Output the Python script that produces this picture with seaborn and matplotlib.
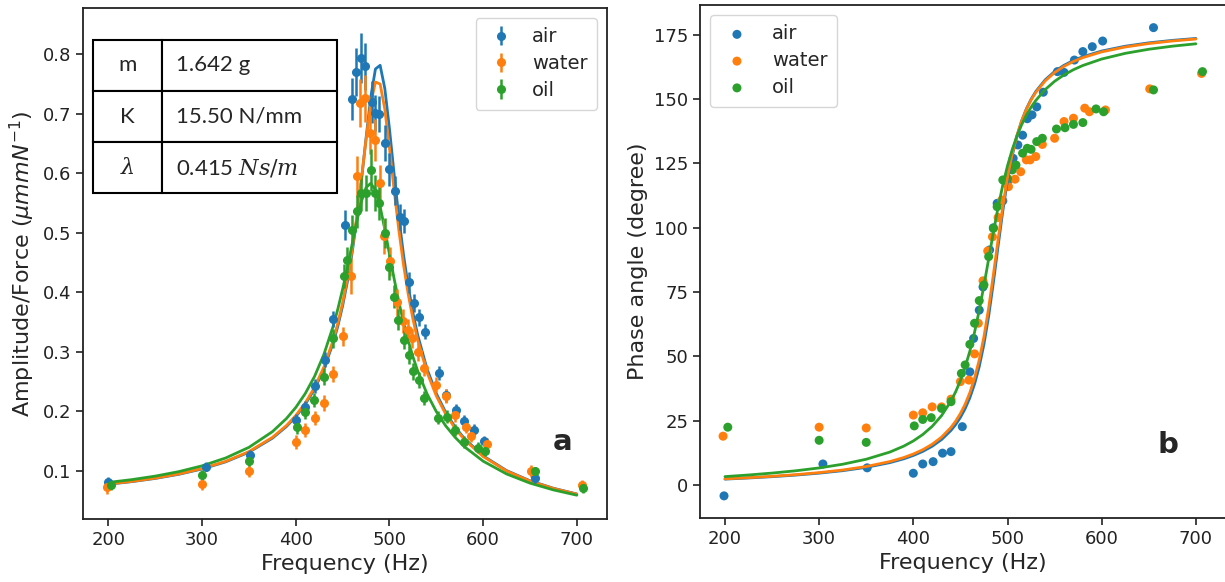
import matplotlib
matplotlib.use("Agg")
import matplotlib.pyplot as plt
import seaborn as sns

# ---------------- data ----------------
media = ["air", "water", "oil"]

freq_air = [199, 304, 351, 400, 410, 421, 431, 440, 452, 460, 464, 470, 474, 481, 485, 489,
            495, 500, 506, 511, 516, 521, 526, 531, 538, 553, 560, 571, 580, 590, 601, 655]
amp_air = [0.082, 0.107, 0.127, 0.185, 0.208, 0.243, 0.287, 0.355, 0.513, 0.725, 0.770, 0.794,
           0.780, 0.720, 0.702, 0.700, 0.651, 0.607, 0.571, 0.527, 0.520, 0.417, 0.382, 0.358,
           0.334, 0.264, 0.227, 0.203, 0.183, 0.169, 0.150, 0.088]
err_air = [0.008, 0.008, 0.008, 0.010, 0.010, 0.012, 0.012, 0.014, 0.025, 0.035, 0.040, 0.042,
           0.040, 0.035, 0.030, 0.030, 0.030, 0.028, 0.025, 0.022, 0.020, 0.018, 0.015, 0.014,
           0.013, 0.012, 0.011, 0.010, 0.010, 0.010, 0.009, 0.008]
phase_air = [-4.2, 8.2, 6.7, 4.6, 8.2, 9.1, 12.4, 13.0, 22.7, 44.0, 57.0, 68.0, 77.0, 91.4, 100.0,
             109.5, 110.5, 118.0, 127.0, 132.2, 136.0, 142.4, 143.9, 147.0, 152.7, 160.7, 160.4,
             165.2, 168.5, 170.4, 172.6, 177.8]

freq_water = [198, 300, 350, 400, 410, 420, 430, 440, 450, 459, 465, 469, 474, 479, 484, 490,
              494, 501, 508, 514, 520, 524, 530, 537, 550, 560, 570, 582, 587, 604, 651, 706]
amp_water = [0.073, 0.078, 0.100, 0.148, 0.169, 0.189, 0.214, 0.263, 0.326, 0.428, 0.595, 0.718,
             0.726, 0.668, 0.656, 0.584, 0.494, 0.452, 0.383, 0.352, 0.337, 0.323, 0.300, 0.273,
             0.245, 0.226, 0.194, 0.174, 0.159, 0.145, 0.100, 0.076]
err_water = [0.012, 0.010, 0.010, 0.012, 0.012, 0.012, 0.013, 0.014, 0.016, 0.030, 0.035, 0.040,
             0.040, 0.035, 0.035, 0.030, 0.030, 0.025, 0.022, 0.020, 0.018, 0.016, 0.015, 0.014,
             0.013, 0.012, 0.012, 0.011, 0.010, 0.010, 0.010, 0.008]
phase_water = [19.0, 22.5, 22.2, 27.2, 28.1, 30.4, 30.4, 33.4, 40.2, 40.8, 51.0, 62.9, 79.4, 91.0,
               96.5, 104.0, 110.8, 116.0, 118.9, 121.8, 126.4, 126.4, 127.7, 132.4, 134.8, 141.3,
               142.6, 146.5, 145.1, 145.8, 154.0, 160.0]

freq_oil = [203, 300, 350, 401, 410, 419, 430, 440, 451, 455, 460, 465, 470, 475, 480, 485, 489,
            495, 500, 505, 509, 516, 521, 525, 531, 537, 552, 561, 570, 580, 594, 602, 655, 707]
amp_oil = [0.076, 0.093, 0.117, 0.174, 0.199, 0.219, 0.258, 0.323, 0.427, 0.455, 0.505, 0.536,
           0.567, 0.567, 0.606, 0.567, 0.550, 0.500, 0.443, 0.393, 0.354, 0.320, 0.295, 0.267,
           0.253, 0.222, 0.189, 0.191, 0.169, 0.149, 0.139, 0.134, 0.099, 0.071]
err_oil = [0.008, 0.008, 0.009, 0.012, 0.012, 0.012, 0.014, 0.016, 0.020, 0.022, 0.025, 0.028,
           0.030, 0.030, 0.035, 0.030, 0.028, 0.025, 0.022, 0.020, 0.018, 0.016, 0.015, 0.014,
           0.013, 0.012, 0.011, 0.011, 0.010, 0.010, 0.009, 0.009, 0.008, 0.008]
phase_oil = [22.5, 17.4, 16.6, 23.0, 25.5, 26.2, 29.8, 32.4, 43.4, 46.7, 54.7, 62.9, 71.7, 77.8,
             88.8, 99.8, 108.2, 118.6, 119.2, 122.5, 124.4, 129.0, 130.9, 130.5, 133.5, 134.8,
             138.4, 138.9, 140.2, 140.9, 146.2, 145.1, 153.6, 160.7]

fit_freq = [200, 225, 250, 275, 300, 325, 350, 375, 390, 400, 410, 420, 430, 440, 445, 450, 455,
            460, 465, 470, 475, 480, 485, 490, 495, 500, 505, 510, 515, 520, 525, 530, 540, 550,
            560, 570, 580, 600, 625, 650, 675, 700]
fit_amp_air = [0.0774, 0.0818, 0.0872, 0.0941, 0.1031, 0.1150, 0.1313, 0.1548, 0.1745, 0.1911,
               0.2116, 0.2375, 0.2711, 0.3159, 0.3442, 0.3777, 0.4176, 0.4653, 0.5219, 0.5876,
               0.6596, 0.7283, 0.7755, 0.7817, 0.7427, 0.6745, 0.5978, 0.5257, 0.4628, 0.4099,
               0.3657, 0.3288, 0.2716, 0.2298, 0.1982, 0.1737, 0.1542, 0.1251, 0.1004, 0.0833,
               0.0707, 0.0611]
fit_amp_water = [0.0778, 0.0822, 0.0877, 0.0947, 0.1038, 0.1158, 0.1323, 0.1562, 0.1761, 0.1930,
                 0.2139, 0.2403, 0.2745, 0.3201, 0.3489, 0.3828, 0.4230, 0.4707, 0.5267, 0.5903,
                 0.6574, 0.7176, 0.7536, 0.7502, 0.7079, 0.6423, 0.5710, 0.5043, 0.4461, 0.3967,
                 0.3553, 0.3204, 0.2659, 0.2258, 0.1953, 0.1715, 0.1524, 0.1240, 0.0997, 0.0828,
                 0.0703, 0.0608]
fit_amp_oil = [0.0805, 0.0852, 0.0911, 0.0986, 0.1084, 0.1215, 0.1395, 0.1658, 0.1879, 0.2066,
               0.2297, 0.2587, 0.2958, 0.3438, 0.3729, 0.4056, 0.4417, 0.4802, 0.5187, 0.5527,
               0.5762, 0.5834, 0.5718, 0.5440, 0.5060, 0.4640, 0.4225, 0.3839, 0.3493, 0.3187,
               0.2918, 0.2683, 0.2296, 0.1995, 0.1756, 0.1564, 0.1405, 0.1162, 0.0947, 0.0793,
               0.0679, 0.0590]
fit_phase_air = [2.31, 2.75, 3.26, 3.87, 4.63, 5.59, 6.88, 8.71, 10.22, 11.50, 13.07, 15.08, 17.69,
                 21.25, 23.54, 26.31, 29.70, 33.92, 39.26, 46.07, 54.78, 65.71, 78.73, 92.87,
                 106.54, 118.43, 128.07, 135.65, 141.57, 146.23, 149.96, 152.97, 157.52, 160.76,
                 163.17, 165.04, 166.51, 168.71, 170.58, 171.89, 172.85, 173.60]
fit_phase_water = [2.41, 2.87, 3.40, 4.04, 4.84, 5.85, 7.21, 9.13, 10.72, 12.07, 13.74, 15.86,
                   18.64, 22.42, 24.86, 27.81, 31.41, 35.90, 41.54, 48.70, 57.74, 68.87, 81.79,
                   95.45, 108.39, 119.57, 128.66, 135.86, 141.53, 146.03, 149.66, 152.62, 157.12,
                   160.35, 162.77, 164.65, 166.15, 168.38, 170.28, 171.62, 172.61, 173.38]
fit_phase_oil = [3.29, 3.92, 4.66, 5.55, 6.66, 8.10, 10.04, 12.82, 15.16, 17.15, 19.64, 22.82,
                 27.00, 32.68, 36.31, 40.65, 45.83, 52.03, 59.41, 67.98, 77.63, 87.91, 98.23,
                 107.95, 116.63, 124.10, 130.40, 135.67, 140.06, 143.75, 146.86, 149.49, 153.73,
                 156.94, 159.45, 161.45, 163.09, 165.60, 167.81, 169.40, 170.59, 171.52]

table_rows = [["m", "1.642 g"], ["K", "15.50 N/mm"], [r"$\lambda$", r"0.415 $Ns/m$"]]

x_ticks = [200, 300, 400, 500, 600, 700]
amp_ticks = [0.1, 0.2, 0.3, 0.4, 0.5, 0.6, 0.7, 0.8]
phase_ticks = [0, 25, 50, 75, 100, 125, 150, 175]

# ---------------- style ----------------
sns.set_style("ticks")
plt.rcParams["font.family"] = ["DejaVu Sans"]
plt.rcParams["axes.edgecolor"] = "#222222"
plt.rcParams["axes.linewidth"] = 1.3
plt.rcParams["xtick.color"] = "#222222"
plt.rcParams["ytick.color"] = "#222222"

colors = {"air": "#1f77b4", "water": "#ff7f0e", "oil": "#2ca02c"}
series = {
    "air": (freq_air, amp_air, err_air, phase_air, fit_amp_air, fit_phase_air),
    "water": (freq_water, amp_water, err_water, phase_water, fit_amp_water, fit_phase_water),
    "oil": (freq_oil, amp_oil, err_oil, phase_oil, fit_amp_oil, fit_phase_oil),
}

fig = plt.figure(figsize=(12.25, 5.82), dpi=100)
ax1 = fig.add_axes([83 / 1225, 1 - 519 / 582, 524 / 1225, 511 / 582])
ax2 = fig.add_axes([700 / 1225, 1 - 518 / 582, 526.4 / 1225, 513 / 582])

# ---------------- left panel ----------------
for m in media:
    f, a, e, p, fa, fp = series[m]
    sns.lineplot(x=fit_freq, y=fa, ax=ax1, color=colors[m], linewidth=2.0, legend=False, sort=False)
for m in media:
    f, a, e, p, fa, fp = series[m]
    ax1.errorbar(f, a, yerr=e, fmt="o", color=colors[m], markersize=5.5, elinewidth=1.8,
                 capsize=0, label=m, zorder=3)

ax1.set_xlim(172.8, 732.2)
ax1.set_ylim(0.019, 0.878)
ax1.set_xticks(x_ticks)
ax1.set_yticks(amp_ticks)
ax1.tick_params(labelsize=13, length=5, width=1.2)
ax1.set_xlabel("Frequency (Hz)", fontsize=16)
ax1.set_ylabel(r"Amplitude/Force ($\mu m mN^{-1}$)", fontsize=16)
leg1 = ax1.legend(loc="upper right", fontsize=14, handletextpad=0.8, handlelength=1.6,
                  borderpad=0.5, labelspacing=0.4, frameon=True)
leg1.get_frame().set_edgecolor("#cccccc")
ax1.text(0.916, 0.151, "a", transform=ax1.transAxes, fontsize=21, fontweight="bold",
         ha="center", va="center")

tbl = ax1.table(cellText=table_rows, cellLoc="left", colWidths=[0.133, 0.333],
                bbox=[0.0185, 0.637, 0.466, 0.301], zorder=5)
tbl.auto_set_font_size(False)
tbl.set_fontsize(16)
for (r, c), cell in tbl.get_celld().items():
    cell.set_linewidth(1.5)
    cell.set_edgecolor("black")
    txt = cell.get_text()
    txt.set_fontfamily(["Lato", "DejaVu Sans"])
    txt.set_math_fontfamily("dejavuserif")
    if c == 0:
        cell._loc = "center"
        txt.set_horizontalalignment("center")
    else:
        cell.PAD = 0.08

# ---------------- right panel ----------------
for m in media:
    f, a, e, p, fa, fp = series[m]
    sns.scatterplot(x=f, y=p, ax=ax2, color=colors[m], s=42, edgecolor="none", label=m, zorder=2)
for m in media:
    f, a, e, p, fa, fp = series[m]
    sns.lineplot(x=fit_freq, y=fp, ax=ax2, color=colors[m], linewidth=2.0, legend=False,
                 sort=False, zorder=3)

ax2.set_xlim(173.5, 732.4)
ax2.set_ylim(-12.8, 186.6)
ax2.set_xticks(x_ticks)
ax2.set_yticks(phase_ticks)
ax2.tick_params(labelsize=13, length=5, width=1.2)
ax2.set_xlabel("Frequency (Hz)", fontsize=16)
ax2.set_ylabel("Phase angle (degree)", fontsize=16)
leg2 = ax2.legend(loc="upper left", fontsize=14, handletextpad=0.9, handlelength=1.8,
                  borderpad=0.5, labelspacing=0.4, frameon=True)
leg2.get_frame().set_edgecolor("#cccccc")
ax2.text(0.889, 0.142, "b", transform=ax2.transAxes, fontsize=21, fontweight="bold",
         ha="center", va="center")

fig.savefig("out.png", dpi=100)
